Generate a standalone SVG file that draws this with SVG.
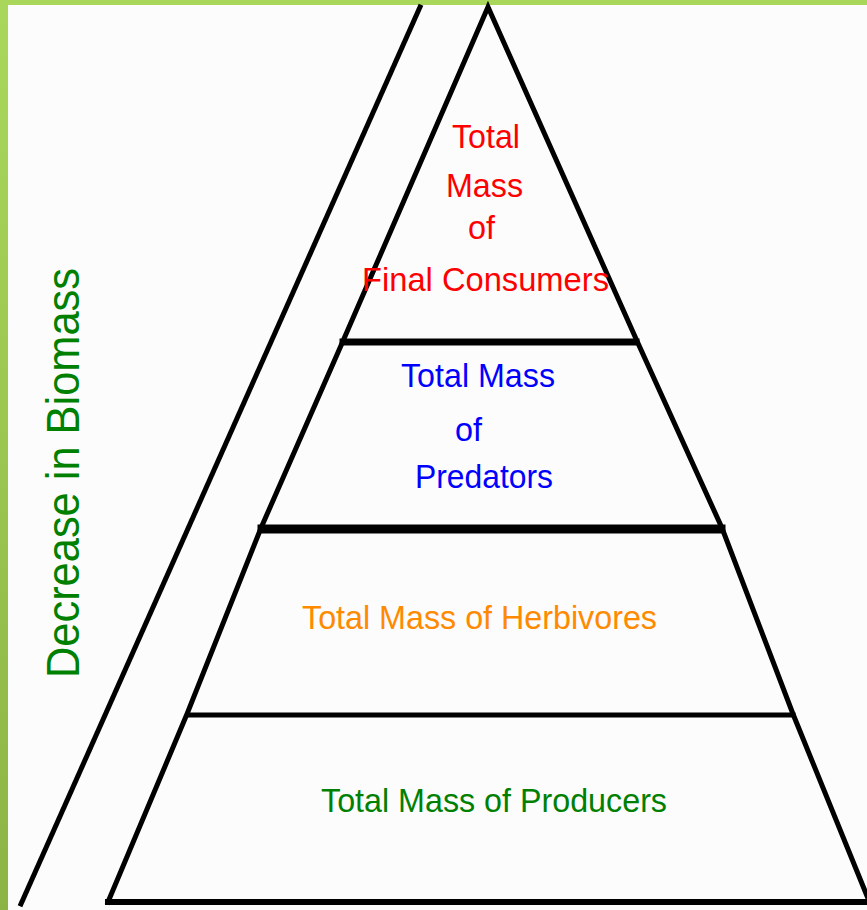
<svg xmlns="http://www.w3.org/2000/svg" width="867" height="910" viewBox="0 0 867 910">
  <defs>
    <linearGradient id="border" x1="0" y1="0" x2="0" y2="1">
      <stop offset="0" stop-color="#a9d75b"/>
      <stop offset="1" stop-color="#8cb445"/>
    </linearGradient>
    <style>
      .ln { stroke: #000; fill: none; stroke-linecap: square; stroke-linejoin: miter; }
      .t { font-family: "Liberation Sans", Arial, sans-serif; font-size: 34px; }
      .red { fill: #ff0000; }
      .blue { fill: #0000ff; }
      .orange { fill: #ff8a00; }
      .green { fill: #008000; }
    </style>
  </defs>
  <rect x="0" y="0" width="867" height="910" fill="#fcfcfc"/>
  <rect x="0" y="0" width="867" height="5" fill="#a9d75b"/>
  <rect x="0" y="0" width="8" height="910" fill="url(#border)"/>

  <g id="connectors">
    <line class="ln" x1="420" y1="7" x2="21" y2="904" stroke-width="5"/>
    <polyline class="ln" points="108,902 187,714 261,528 343,341 488,7 637,341 722,528 793,714 867,896" stroke-width="5"/>
    <line class="ln" x1="108" y1="902" x2="867" y2="902" stroke-width="6"/>
    <line class="ln" x1="188" y1="715" x2="793" y2="715" stroke-width="5"/>
    <line class="ln" x1="262" y1="529" x2="721" y2="529" stroke-width="9"/>
    <line class="ln" x1="343" y1="342" x2="636" y2="342" stroke-width="7"/>
  </g>

  <g id="final-consumers" class="t red">
    <text x="452" y="148" textLength="68" lengthAdjust="spacingAndGlyphs">Total</text>
    <text x="446" y="197" textLength="77" lengthAdjust="spacingAndGlyphs">Mass</text>
    <text x="468" y="239" textLength="27" lengthAdjust="spacingAndGlyphs">of</text>
    <text x="362" y="291" textLength="247" lengthAdjust="spacingAndGlyphs">Final Consumers</text>
  </g>

  <g id="predators" class="t blue">
    <text x="401" y="387" textLength="154" lengthAdjust="spacingAndGlyphs">Total Mass</text>
    <text x="455" y="441" textLength="27" lengthAdjust="spacingAndGlyphs">of</text>
    <text x="415" y="488" textLength="138" lengthAdjust="spacingAndGlyphs">Predators</text>
  </g>

  <g id="herbivores" class="t orange">
    <text x="302" y="629" textLength="355" lengthAdjust="spacingAndGlyphs">Total Mass of Herbivores</text>
  </g>

  <g id="producers" class="t green">
    <text x="321" y="812" textLength="346" lengthAdjust="spacingAndGlyphs">Total Mass of Producers</text>
  </g>

  <g id="biomass-label">
    <text class="green" transform="translate(79,473) rotate(-90)" text-anchor="middle" font-family="Liberation Sans, Arial, sans-serif" font-size="46" textLength="410" lengthAdjust="spacingAndGlyphs">Decrease in Biomass</text>
  </g>
</svg>
